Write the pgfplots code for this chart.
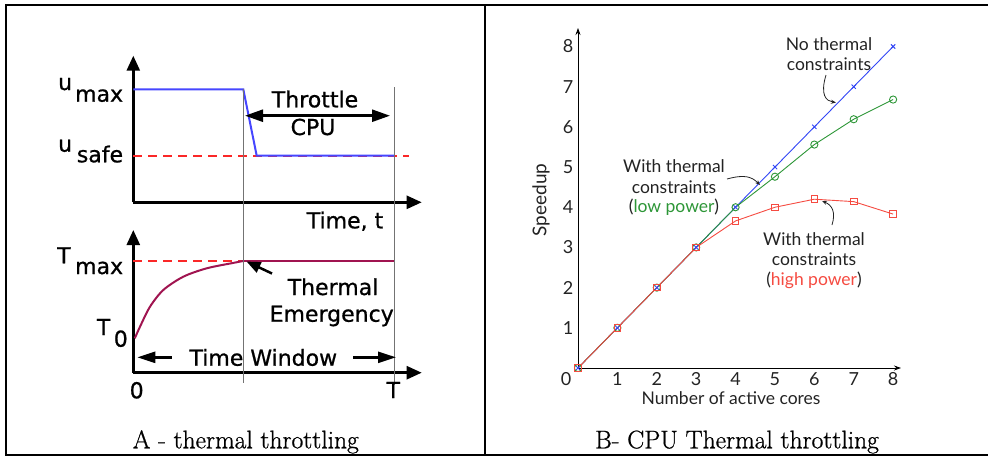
\documentclass[border=0pt]{standalone}
\usepackage{fontspec}
\usepackage{pgfplots}
\pgfplotsset{compat=1.18}
\usetikzlibrary{arrows.meta}
\newfontfamily\fa{DejaVu Sans}[FakeBold=0.8]
\newfontfamily\fb{Lato}
\newfontfamily\fc{Latin Modern Roman}[FakeBold=0.8]

\definecolor{ablue}{RGB}{70,70,255}
\definecolor{ared}{RGB}{250,40,40}
\definecolor{acurve}{RGB}{160,20,80}
\definecolor{bblue}{RGB}{50,70,245}
\definecolor{bgreen}{RGB}{45,150,55}
\definecolor{bred}{RGB}{245,75,65}
\definecolor{tgray}{RGB}{35,35,35}

\newcommand{\fA}{\fa\fontsize{22}{22}\selectfont}
\newcommand{\fB}{\fb\fontsize{17.5}{17.5}\selectfont}
\newcommand{\fC}{\fc\fontsize{25.5}{25.5}\selectfont}

\begin{document}
\begin{tikzpicture}
\useasboundingbox (0pt,0pt) rectangle (988pt,-456pt);

% ---- panel A, upper plot (CPU)
\begin{axis}[at={(133.3pt,-202.3pt)}, anchor=south west, scale only axis,
    width=288.4pt, height=146.6pt,
    xmin=0, xmax=288.4, ymin=0, ymax=146.6,
    axis lines=left, ticks=none, clip=false,
    x axis line style={line width=2.5pt, -{Triangle[length=15pt,width=13pt]}},
    y axis line style={line width=2.5pt, -{Triangle[length=15pt,width=13pt]}}]
\addplot[ared, line width=1.6pt, dash pattern=on 9pt off 6pt] coordinates {(0,46.6) (276,46.6)};
\addplot[ablue, line width=2pt] coordinates {(0,113) (110,113) (123.4,46.6) (261,46.6)};
\end{axis}

% ---- panel A, lower plot (temperature)
\begin{axis}[at={(133.3pt,-372.7pt)}, anchor=south west, scale only axis,
    width=288.4pt, height=142.7pt,
    xmin=0, xmax=288.4, ymin=0, ymax=142.7,
    axis lines=left, ticks=none, clip=false,
    x axis line style={line width=2.5pt, -{Triangle[length=15pt,width=13pt]}},
    y axis line style={line width=2.5pt, -{Triangle[length=15pt,width=13pt]}}]
\addplot[ared, line width=1.6pt, dash pattern=on 9pt off 6pt] coordinates {(0,111.7) (110,111.7)};
\addplot[acurve, line width=2pt, smooth] coordinates {
    (1.5,34.4) (6.7,46) (16.7,66) (30,82.7) (50,96) (73.4,104.4) (100,109.8) (110,111.7)};
\addplot[acurve, line width=2pt] coordinates {(110,111.7) (261,111.7)};
\end{axis}

% ---- panel B
\begin{axis}[at={(578pt,-368pt)}, anchor=south west, scale only axis,
    width=323pt, height=340pt,
    xmin=0, xmax=8.2, ymin=0, ymax=8.46,
    axis lines=left, clip=false,
    x axis line style={line width=0.8pt, -{Stealth[length=7pt,width=5pt]}},
    y axis line style={line width=0.8pt, -{Stealth[length=7pt,width=5pt]}},
    xtick={1,...,8}, ytick={1,...,8}, major tick length=0pt,
    /pgf/number format/assume math mode=true,
    tick label style={font=\fb\fontsize{18}{18}\selectfont, text=tgray},
    xticklabel style={anchor=north, inner sep=0pt, yshift=-4.5pt},
    yticklabel style={anchor=east, inner sep=0pt, xshift=-4.5pt}]
\addplot[bblue, line width=0.9pt, mark=x, mark size=3pt, mark options={solid}] coordinates {
    (0,0) (1,1) (2,2) (3,3) (4,4) (5,5) (6,6) (7,7) (8,8)};
\addplot[bgreen, line width=0.9pt, mark=o, mark size=3.6pt, mark options={solid}] coordinates {
    (0,0) (1,1) (2,2) (3,3) (4,4.0) (5,4.76) (6,5.56) (7,6.19) (8,6.68)};
\addplot[bred, line width=0.9pt, mark=square, mark size=3.3pt, mark options={solid}] coordinates {
    (0,0) (1,1) (2,2) (3,3) (4,3.66) (5,4.0) (6,4.2) (7,4.14) (8,3.83)};
\end{axis}

\begin{scope}[x=1pt,y=-1pt]
% frame
\draw[line width=2pt] (5,5) -- (988,5);
\draw[line width=2pt] (6,5) -- (6,455);
\draw[line width=2pt] (5,455) -- (988,455);
\draw[line width=2pt] (485,5) -- (485,455);

% panel A guides and labels
\draw[black!55, line width=0.8pt] (243.3,89) -- (243.3,383);
\draw[black!55, line width=0.8pt] (394.3,87) -- (394.3,385);

\node[anchor=base west, inner sep=0] at (58,90) {\fA u};
\node[anchor=base east, inner sep=0] at (123.3,101.7) {\fA max};
\node[anchor=base west, inner sep=0] at (58,151.7) {\fA u};
\node[anchor=base east, inner sep=0] at (123.3,162.3) {\fA safe};
\node[anchor=base west, inner sep=0] at (57,263.3) {\fA T};
\node[anchor=base east, inner sep=0] at (123.3,274) {\fA max};
\node[anchor=base west, inner sep=0] at (96.7,335) {\fA T};
\node[anchor=base east, inner sep=0] at (128,346.7) {\fA 0};

\draw[line width=2.5pt, {Triangle[length=18pt,width=12pt]}-{Triangle[length=18pt,width=12pt]}] (245,115.7) -- (390,115.7);
\node[anchor=base, inner sep=0] at (315,107.3) {\fA Throttle};
\node[anchor=base, inner sep=0] at (313,135) {\fA CPU};
\node[anchor=base, inner sep=0] at (345,228.3) {\fA Time, t};

\draw[line width=2.5pt, -{Triangle[length=14pt,width=11pt]}] (272,273.5) -- (246.5,261.5);
\node[anchor=base, inner sep=0] at (333,295) {\fA Thermal};
\node[anchor=base, inner sep=0] at (331.7,321.7) {\fA Emergency};

\draw[line width=2.5pt, -{Triangle[length=18pt,width=11pt]}] (171.7,357.3) -- (137.3,357.3);
\draw[line width=2.5pt, -{Triangle[length=18pt,width=11pt]}] (353.3,357.3) -- (396,357.3);
\node[anchor=base, inner sep=0] at (263.3,365.7) {\fA Time Window};
\node[anchor=base, inner sep=0] at (136.7,398.3) {\fA 0};
\node[anchor=base, inner sep=0] at (393.3,398) {\fA T};

\node[anchor=base, inner sep=0] at (245.8,448.3) {\fC A - thermal throttling};

% panel B labels
\node[anchor=base, inner sep=0, text=tgray] at (566,385.5) {\fb\fontsize{18}{18}\selectfont 0};
\node[rotate=90, inner sep=0, text=tgray] at (541,200) {\fb\fontsize{19}{19}\selectfont Speedup};
\node[anchor=base, inner sep=0, text=tgray] at (731,404) {\fb\fontsize{17.5}{17.5}\selectfont Number of active cores};

\node[anchor=base, inner sep=0, text=tgray] at (829,50.7) {\fB No thermal};
\node[anchor=base, inner sep=0, text=tgray] at (829,70) {\fB constraints};
\node[anchor=base, inner sep=0, text=tgray] at (674,172.7) {\fB With thermal};
\node[anchor=base, inner sep=0, text=tgray] at (674,193.3) {\fB constraints};
\node[anchor=base, inner sep=0, text=tgray] at (674,212.7) {\fB (\textcolor{bgreen}{low power})};
\node[anchor=base, inner sep=0, text=tgray] at (814,245) {\fB With thermal};
\node[anchor=base, inner sep=0, text=tgray] at (814,265) {\fB constraints};
\node[anchor=base, inner sep=0, text=tgray] at (814,285) {\fB (\textcolor{bred}{high power})};

\draw[tgray, line width=0.8pt, -{Stealth[length=5pt,width=4pt]}] (826,75) .. controls (820,95) and (826,101) .. (836,102.5);
\draw[tgray, line width=0.8pt, -{Stealth[length=5pt,width=4pt]}] (727,179) .. controls (745,174) and (752,177) .. (760,185);
\draw[tgray, line width=0.8pt, -{Stealth[length=5pt,width=4pt]}] (832,225) .. controls (836,212) and (832,205) .. (822,201);

\node[anchor=base, inner sep=0] at (737,448.3) {\fC B- CPU Thermal throttling};
\end{scope}
\end{tikzpicture}
\end{document}
